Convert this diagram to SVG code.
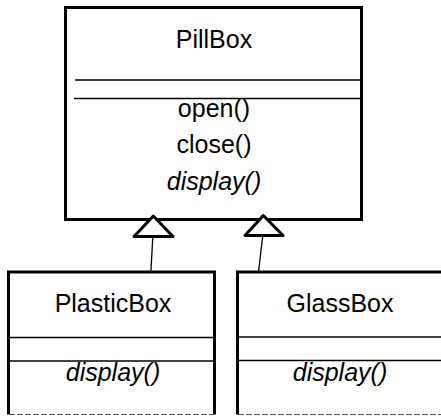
<svg xmlns="http://www.w3.org/2000/svg" width="441" height="416" viewBox="0 0 441 416">
<style>
.box{fill:#fff;stroke:#000;stroke-width:3}
.bot{stroke:#555;stroke-width:1.2;stroke-dasharray:6 2}
.sep{stroke:#000;stroke-width:1.5}
.t{font-family:"Liberation Sans",Arial,sans-serif;font-size:25px;fill:#000;text-anchor:middle}
.i{font-style:italic}
.edge{stroke:#000;stroke-width:1.3;fill:none}
.tri{fill:#fff;stroke:#000;stroke-width:3;stroke-linejoin:round}
</style>
<rect width="441" height="416" fill="#fff"/>
<g id="PillBox">
<rect class="box" x="65.5" y="7.5" width="296" height="212"/>
<line class="sep" x1="75" y1="80" x2="361" y2="80"/>
<line class="sep" x1="74" y1="98.5" x2="361" y2="98.5"/>
<text class="t" x="214" y="48">PillBox</text>
<text class="t" x="214" y="117">open()</text>
<text class="t" x="214" y="153">close()</text>
<text class="t i" x="214" y="190">display()</text>
</g>
<g id="PlasticBox">
<path class="box" d="M8.5,414.5 V272 H214.5 V414.5"/>
<line class="bot" x1="9" y1="414.5" x2="214" y2="414.5"/>
<line class="sep" x1="9" y1="337.5" x2="214" y2="337.5"/>
<line class="sep" x1="9" y1="361" x2="214" y2="361"/>
<text class="t" x="113" y="312">PlasticBox</text>
<text class="t i" x="113" y="381">display()</text>
</g>
<g id="GlassBox">
<path class="box" d="M237.5,414.5 V272 H445"/>
<line class="bot" x1="238" y1="414.5" x2="441" y2="414.5"/>
<line class="sep" x1="238" y1="337" x2="441" y2="337"/>
<line class="sep" x1="238" y1="360.5" x2="441" y2="360.5"/>
<text class="t" x="340" y="312">GlassBox</text>
<text class="t i" x="340" y="381">display()</text>
</g>
<g id="connectors">
<line class="edge" x1="152.8" y1="237" x2="150.8" y2="273"/>
<polygon class="tri" points="153.3,216 134,236.5 173,236.5"/>
<line class="edge" x1="262.7" y1="236" x2="258.5" y2="272"/>
<polygon class="tri" points="263.3,215.5 245,235.5 283,235.5"/>
</g>
</svg>
